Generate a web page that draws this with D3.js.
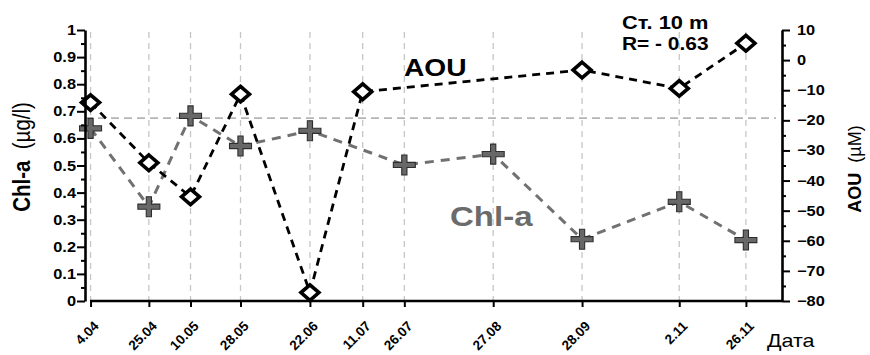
<!DOCTYPE html>
<html>
<head>
<meta charset="utf-8">
<script src="https://cdn.jsdelivr.net/npm/d3@7"></script>
<style>
  html, body { margin: 0; padding: 0; background: #fff; }
  svg { display: block; font-family: Arial, "Liberation Sans", sans-serif; }
</style>
</head>
<body>
<svg id="chart" width="870" height="355"></svg>
<script>
// ---- data ----
const dateLabels = ["2001-04-04","2001-04-25","2001-05-10","2001-05-28","2001-06-22","2001-07-11","2001-07-26","2001-08-27","2001-09-28","2001-11-02","2001-11-26"];
const chlDates = ["2001-04-04","2001-04-25","2001-05-10","2001-05-28","2001-06-22","2001-07-26","2001-08-27","2001-09-28","2001-11-02","2001-11-26"];
const chlValues = [0.637, 0.348, 0.683, 0.572, 0.628, 0.502, 0.542, 0.228, 0.366, 0.225];
const aouDates = ["2001-04-04","2001-04-25","2001-05-10","2001-05-28","2001-06-22","2001-07-11","2001-09-28","2001-11-02","2001-11-26"];
const aouValues = [-14.1, -34.1, -45.4, -11.3, -77.2, -10.5, -3.3, -9.4, 5.6];
const leftTicks = [0, 0.1, 0.2, 0.3, 0.4, 0.5, 0.6, 0.7, 0.8, 0.9, 1];
const leftMinor = [0.05, 0.15, 0.25, 0.35, 0.45, 0.55, 0.65, 0.75, 0.85, 0.95];
const rightTicks = [-80, -70, -60, -50, -40, -30, -20, -10, 0, 10];
const rightMinor = [-75, -65, -55, -45, -35, -25, -15, -5, 5];
const refLineValue = 0.675;
const xDomain = ["2001-04-02", "2001-12-09"];

// ---- layout ----
const svg = d3.select("#chart");
const X0 = 85, X1 = 782, Y0 = 301, Y1 = 30;
const parse = d3.timeParse("%Y-%m-%d");
const x = d3.scaleTime().domain(xDomain.map(parse)).range([X0, X1]);
const yL = d3.scaleLinear().domain([0, 1]).range([Y0, Y1]);
const yR = d3.scaleLinear().domain([-80, 10]).range([Y0, Y1]);
const fmtDate = d3.timeFormat("%-d.%m");
const SX = 1.17;

function txt(g, px, py, str, opts) {
  let tr = "translate(" + px + "," + py + ")";
  if (opts.sx && opts.sx !== 1) tr += " scale(" + opts.sx + ",1)";
  if (opts.rot) tr += " rotate(" + opts.rot + ")";
  const t = g.append("text")
    .attr("x", 0).attr("y", 0)
    .attr("transform", tr)
    .style("font-size", opts.size + "px")
    .style("font-weight", opts.weight || "bold")
    .attr("fill", opts.fill || "#000")
    .attr("text-anchor", opts.anchor || "start");
  if (Array.isArray(str)) {
    str.forEach(s => t.append("tspan").style("font-weight", s.w).text(s.t));
  } else t.text(str);
  return t;
}

// grid (vertical dashed at dates)
svg.append("g").selectAll("line").data(dateLabels).join("line")
  .attr("x1", d => x(parse(d))).attr("x2", d => x(parse(d)))
  .attr("y1", Y1 + 2).attr("y2", Y0)
  .attr("stroke", "#c6c6c6").attr("stroke-width", 1.3).attr("stroke-dasharray", "6,5");

// reference horizontal dashed line
svg.append("line")
  .attr("x1", X0).attr("x2", X1 - 6)
  .attr("y1", yL(refLineValue)).attr("y2", yL(refLineValue))
  .attr("stroke", "#b5b5b5").attr("stroke-width", 1.6).attr("stroke-dasharray", "8,5");

// lines
const chlData = chlDates.map((d, i) => ({ d: parse(d), v: chlValues[i] }));
const aouData = aouDates.map((d, i) => ({ d: parse(d), v: aouValues[i] }));

svg.append("path").datum(chlData)
  .attr("d", d3.line().x(p => x(p.d)).y(p => yL(p.v)))
  .attr("fill", "none").attr("stroke", "#717171").attr("stroke-width", 3)
  .attr("stroke-dasharray", "9,7");

svg.append("path").datum(aouData)
  .attr("d", d3.line().x(p => x(p.d)).y(p => yR(p.v)))
  .attr("fill", "none").attr("stroke", "#000").attr("stroke-width", 2.8)
  .attr("stroke-dasharray", "8,6");

// cross markers (Chl-a)
const cw = 11, ch = 10, ct = 2.6;
const crossPath = `M${-cw},${-ct} H${-ct} V${-ch} H${ct} V${-ct} H${cw} V${ct} H${ct} V${ch} H${-ct} V${ct} H${-cw} Z`;
svg.append("g").selectAll("path").data(chlData).join("path")
  .attr("transform", p => `translate(${x(p.d)},${yL(p.v)})`)
  .attr("d", crossPath)
  .attr("fill", "#686868").attr("stroke", "#2e2e2e").attr("stroke-width", 1.1);

// diamond markers (AOU)
const dw = 9, dh = 7.8;
const diamondPath = `M0,${-dh} L${dw},0 L0,${dh} L${-dw},0 Z`;
svg.append("g").selectAll("path").data(aouData).join("path")
  .attr("transform", p => `translate(${x(p.d)},${yR(p.v)})`)
  .attr("d", diamondPath)
  .attr("fill", "#fff").attr("stroke", "#000").attr("stroke-width", 3.6)
  .attr("stroke-linejoin", "miter");

// ---- axes ----
function styleAxis(g) {
  g.selectAll("path.domain").attr("stroke", "#000").attr("stroke-width", 2.6);
  g.selectAll(".tick line").attr("stroke", "#000").attr("stroke-width", 2);
  g.selectAll(".tick text").remove();
}
const gL = svg.append("g").attr("transform", `translate(${X0},0)`);
gL.call(d3.axisLeft(yL).tickValues(leftTicks).tickSize(8).tickSizeOuter(0)).call(styleAxis);
gL.append("g").call(d3.axisLeft(yL).tickValues(leftMinor).tickSize(4).tickSizeOuter(0))
  .call(g => g.select("path.domain").remove()).call(styleAxis);

const gR = svg.append("g").attr("transform", `translate(${X1},0)`);
gR.call(d3.axisRight(yR).tickValues(rightTicks).tickSize(8).tickSizeOuter(0)).call(styleAxis);
gR.append("g").call(d3.axisRight(yR).tickValues(rightMinor).tickSize(4).tickSizeOuter(0))
  .call(g => g.select("path.domain").remove()).call(styleAxis);

const gB = svg.append("g").attr("transform", `translate(0,${Y0})`);
gB.call(d3.axisBottom(x).tickValues(dateLabels.map(parse)).tickSize(6).tickSizeOuter(0)).call(styleAxis);
gB.select("path.domain").attr("d", `M${X0 + 5},0H${X1}`);

// ---- text layer ----
const T = svg.append("g").attr("class", "labels");
leftTicks.forEach(v => txt(T, X0 - 9, yL(v) + 5, d3.format("")(v), { size: 14, sx: SX, anchor: "end" }));
rightTicks.forEach(v => txt(T, X1 + 15, yR(v) + 5, d3.format("")(v), { size: 14, sx: SX, anchor: "start" }));
dateLabels.forEach(d => {
  const px = x(parse(d));
  txt(T, px + 9, 327, fmtDate(parse(d)), { size: 13.5, rot: -45, anchor: "end" });
});

txt(T, 767, 347, "Дата", { size: 19, weight: "normal", sx: 1.13 });
txt(T, 30, 157, [{ t: "Chl-a", w: "bold" }, { t: "\u00a0\u00a0(\u00b5g/l)", w: "normal" }], { size: 20.5, sx: 1.15, rot: -90, anchor: "middle" });
txt(T, 861, 169, [{ t: "AOU", w: "bold" }, { t: "\u00a0\u00a0(\u00b5M)", w: "normal" }], { size: 18, rot: -90, anchor: "middle" });
txt(T, 404, 76, "AOU", { size: 24.5, sx: 1.15 });
txt(T, 450, 226, "Chl-a", { size: 28, sx: 1.18, fill: "#6b6b6b" });
txt(T, 622, 29, "Ст. 10 m", { size: 19, sx: 1.15 });
txt(T, 622, 50, "R= - 0.63", { size: 19, sx: 1.1 });
</script>
</body>
</html>
